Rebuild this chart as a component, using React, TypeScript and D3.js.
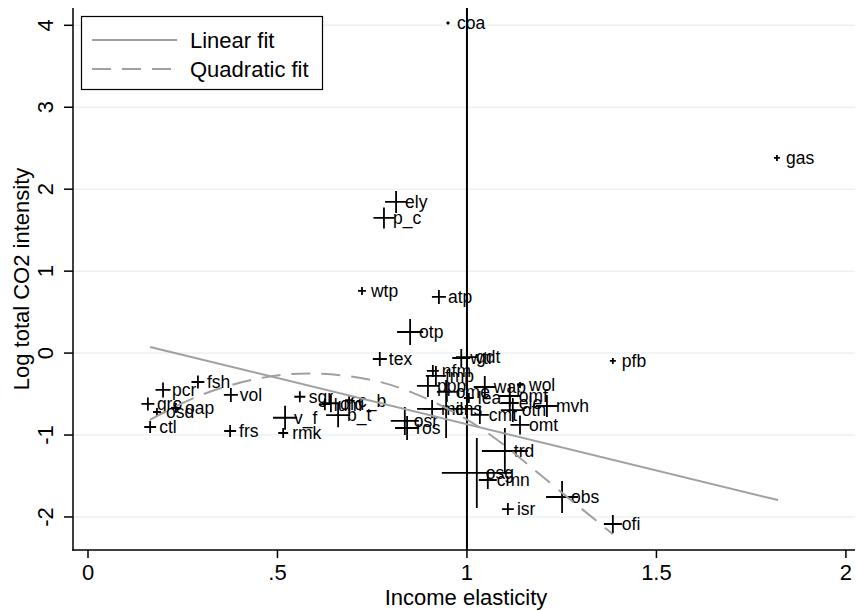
import React, { useEffect, useRef } from 'react';
import * as d3 from 'd3';

// sector codes and their values
const sectors = [
  'coa', 'gas', 'ely', 'p_c', 'wtp', 'atp', 'otp', 'tex', 'wtr', 'gdt',
  'pfb', 'fmp', 'nfm', 'ppp', 'ome', 'lea', 'wap', 'wol', 'omf', 'ele',
  'otn', 'mvh', 'omt', 'cmt', 'cns', 'mil', 'osr', 'ros', 'trd', 'osg',
  'cmn', 'isr', 'obs', 'ofi', 'pcr', 'fsh', 'vol', 'gro', 'osd', 'oap',
  'ctl', 'frs', 'sgr', 'v_f', 'rmk', 'ofd', 'lum', 'c_b', 'b_t',
];
const elasticity = [
  0.95, 1.818, 0.813, 0.781, 0.723, 0.926, 0.85, 0.77, 0.985, 1.0,
  1.385, 0.918, 0.91, 0.897, 0.947, 1.005, 1.047, 1.14, 1.113, 1.113,
  1.121, 1.211, 1.14, 1.034, 0.945, 0.908, 0.836, 0.842, 1.1, 1.026,
  1.055, 1.108, 1.251, 1.385, 0.198, 0.29, 0.377, 0.158, 0.182, 0.232,
  0.164, 0.375, 0.559, 0.52, 0.515, 0.641, 0.625, 0.689, 0.66,
];
const logIntensity = [
  4.028, 2.381, 1.844, 1.649, 0.758, 0.685, 0.257, -0.072, -0.06, -0.05,
  -0.096, -0.279, -0.218, -0.401, -0.474, -0.548, -0.414, -0.389, -0.524, -0.609,
  -0.695, -0.646, -0.877, -0.755, -0.682, -0.682, -0.828, -0.914, -1.195, -1.463,
  -1.549, -1.903, -1.756, -2.086, -0.45, -0.353, -0.511, -0.621, -0.719, -0.67,
  -0.902, -0.951, -0.533, -0.789, -0.975, -0.612, -0.624, -0.575, -0.758,
];
// analytic weights (marker size)
const weights = [
  0.18, 0.73, 9.9, 9, 1.3, 4, 13.8, 4, 6.6, 9.9,
  0.73, 8.2, 2.9, 9.9, 8.2, 2, 9.9, 0.73, 9.9, 6.6,
  11.8, 9.9, 7.4, 6.6, 68.7, 6.6, 16, 11.8, 43, 100,
  6.6, 2.9, 20.9, 6.6, 4.6, 3.4, 4, 3.4, 1.3, 2,
  2.9, 2.9, 2.5, 11.8, 2, 6.6, 2.9, 1.3, 11.8,
];

const linearFitX = [0.164, 1.821];
const linearFitY = [0.074, -1.794];
const quadFitX = [0.163, 0.3, 0.45, 0.59, 0.75, 0.9, 1.05, 1.2, 1.385];
const quadFitY = [-0.815, -0.51, -0.31, -0.25, -0.33, -0.57, -0.96, -1.51, -2.21];

const xTicks = [0, 0.5, 1, 1.5, 2];
const xTickLabels = ['0', '.5', '1', '1.5', '2'];
const yTicks = [-2, -1, 0, 1, 2, 3, 4];
const yTickLabels = ['-2', '-1', '0', '1', '2', '3', '4'];

const legendLabels = ['Linear fit', 'Quadratic fit'];

const FONT = '"Liberation Sans", Arial, Helvetica, sans-serif';

const App: React.FC = () => {
  const chartRef = useRef(null);

  useEffect(() => {
    if (!chartRef.current) return;
    const svg = d3.select(chartRef.current);
    svg.selectAll('*').remove();

    const left = 73;
    const right = 855;
    const top = 8;
    const bottom = 550;

    const x = d3.scaleLinear().domain([-0.0396, 2.024]).range([left, right]);
    const y = d3.scaleLinear().domain([-2.403, 4.211]).range([bottom, top]);
    const size = d3.scaleSqrt().domain([0, 100]).range([0, 35]);

    svg.append('rect').attr('width', 860).attr('height', 612).attr('fill', '#fff');

    // gridlines
    svg
      .append('g')
      .selectAll('line')
      .data(yTicks)
      .enter()
      .append('line')
      .attr('x1', left)
      .attr('x2', right)
      .attr('y1', (d) => y(d))
      .attr('y2', (d) => y(d))
      .attr('stroke', '#eaf2f3')
      .attr('stroke-width', 1.5);

    // xline at 1
    svg
      .append('line')
      .attr('x1', x(1))
      .attr('x2', x(1))
      .attr('y1', top)
      .attr('y2', bottom)
      .attr('stroke', '#000')
      .attr('stroke-width', 2);

    // axes
    const axes = svg.append('g').attr('stroke', '#000').attr('stroke-width', 1.5);
    axes.append('line').attr('x1', left).attr('x2', left).attr('y1', top).attr('y2', bottom + 0.75);
    axes.append('line').attr('x1', left - 0.75).attr('x2', right).attr('y1', bottom).attr('y2', bottom);
    axes
      .selectAll('.xt')
      .data(xTicks)
      .enter()
      .append('line')
      .attr('x1', (d) => x(d))
      .attr('x2', (d) => x(d))
      .attr('y1', bottom)
      .attr('y2', bottom + 8);
    axes
      .selectAll('.yt')
      .data(yTicks)
      .enter()
      .append('line')
      .attr('x1', left - 9)
      .attr('x2', left)
      .attr('y1', (d) => y(d))
      .attr('y2', (d) => y(d));

    svg
      .append('g')
      .attr('font-family', FONT)
      .attr('font-size', 22)
      .attr('text-anchor', 'middle')
      .selectAll('text')
      .data(xTicks)
      .enter()
      .append('text')
      .attr('x', (d) => x(d))
      .attr('y', 580)
      .text((d, i) => xTickLabels[i]);

    svg
      .append('g')
      .attr('font-family', FONT)
      .attr('font-size', 22)
      .attr('text-anchor', 'middle')
      .selectAll('text')
      .data(yTicks)
      .enter()
      .append('text')
      .attr('transform', (d) => `translate(53,${y(d)}) rotate(-90)`)
      .text((d, i) => yTickLabels[i]);

    svg
      .append('text')
      .attr('font-family', FONT)
      .attr('font-size', 22)
      .attr('text-anchor', 'middle')
      .attr('x', (left + right) / 2 + 2)
      .attr('y', 605)
      .text('Income elasticity');

    svg
      .append('text')
      .attr('font-family', FONT)
      .attr('font-size', 22)
      .attr('text-anchor', 'middle')
      .attr('transform', `translate(29,${(top + bottom) / 2}) rotate(-90)`)
      .text('Log total CO2 intensity');

    // weighted cross markers
    const pts = sectors.map((s, i) => ({
      s,
      x: elasticity[i],
      y: logIntensity[i],
      r: size(weights[i]),
    }));

    const marks = svg.append('g').attr('stroke', '#000').attr('stroke-width', 1.8);
    marks
      .selectAll('path')
      .data(pts)
      .enter()
      .append('path')
      .attr('d', (d) => {
        const cx = x(d.x);
        const cy = y(d.y);
        return `M${cx - d.r},${cy}H${cx + d.r}M${cx},${cy - d.r}V${cy + d.r}`;
      });

    svg
      .append('g')
      .attr('font-family', FONT)
      .attr('font-size', 17.5)
      .selectAll('text')
      .data(pts)
      .enter()
      .append('text')
      .attr('x', (d) => x(d.x) + 9)
      .attr('y', (d) => y(d.y))
      .attr('dy', '0.36em')
      .text((d) => d.s);

    // fits
    const line = d3
      .line<number>()
      .x((d) => x(d))
      .y((d, i) => y(linearFitY[i]));
    svg
      .append('path')
      .attr('d', line(linearFitX))
      .attr('fill', 'none')
      .attr('stroke', '#a0a0a0')
      .attr('stroke-width', 2);

    const qline = d3
      .line<number>()
      .x((d) => x(d))
      .y((d, i) => y(quadFitY[i]))
      .curve(d3.curveNatural);
    svg
      .append('path')
      .attr('d', qline(quadFitX))
      .attr('fill', 'none')
      .attr('stroke', '#a0a0a0')
      .attr('stroke-width', 2)
      .attr('stroke-dasharray', '19 11');

    // legend
    const lg = svg.append('g');
    lg.append('rect')
      .attr('x', 81.5)
      .attr('y', 16.5)
      .attr('width', 241)
      .attr('height', 73)
      .attr('fill', '#fff')
      .attr('stroke', '#000')
      .attr('stroke-width', 1.2);
    legendLabels.forEach((label, i) => {
      const ly = 40 + i * 29;
      lg.append('line')
        .attr('x1', 92)
        .attr('x2', 177)
        .attr('y1', ly)
        .attr('y2', ly)
        .attr('stroke', '#a0a0a0')
        .attr('stroke-width', 2)
        .attr('stroke-dasharray', i === 0 ? null : '19 11');
      lg.append('text')
        .attr('x', 190)
        .attr('y', ly + 8)
        .attr('font-family', FONT)
        .attr('font-size', 22)
        .text(label);
    });

    return () => {
      svg.selectAll('*').remove();
    };
  }, []);

  return (
    <svg
      ref={chartRef}
      width={860}
      height={612}
      style={{ position: 'absolute', left: 0, top: 0 }}
    ></svg>
  );
};

export default App;
